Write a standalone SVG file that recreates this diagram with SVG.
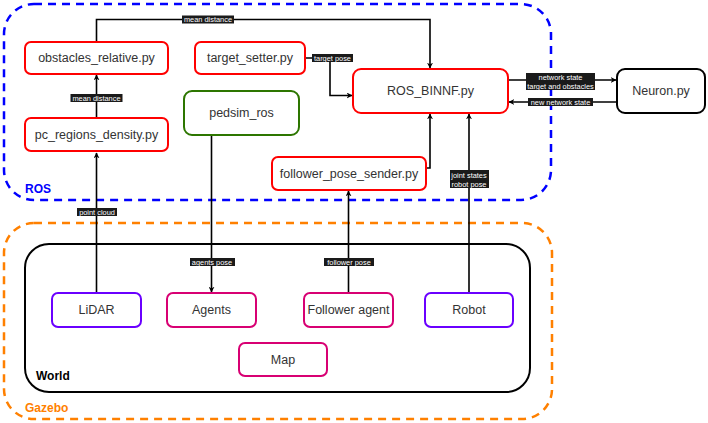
<svg xmlns="http://www.w3.org/2000/svg" width="708" height="423" viewBox="0 0 708 423">
<defs>
<marker id="arr" viewBox="0 0 10 10" refX="9" refY="5" markerWidth="6" markerHeight="6" orient="auto" markerUnits="userSpaceOnUse">
<path d="M0,0 L10,5 L0,10 L3,5 z" fill="#000"/>
</marker>
<style>
.node{fill:#fff;stroke-width:2}
.red{stroke:#ff0000}
.green{stroke:#2d7600}
.black{stroke:#000}
.violet{stroke:#6a00ff}
.pink{stroke:#d80073}
.t{font-family:"Liberation Sans",Arial,sans-serif;font-size:12.5px;fill:#333;text-anchor:middle;dominant-baseline:central}
.edge{fill:none;stroke:#000;stroke-width:1.6}
.lb{fill:#1a1a1a}
.lt{font-family:"Liberation Sans",Arial,sans-serif;font-size:7.4px;fill:#fff;text-anchor:middle;dominant-baseline:central}
.cont{fill:none;stroke-width:2.5;stroke-dasharray:8 6}
</style>
</defs>
<rect width="708" height="423" fill="#fff"/>

<g id="ros">
<rect class="cont" x="4" y="4" width="547" height="196" rx="30" stroke="#0000ff"/>
<text x="25" y="189" font-family="Liberation Sans,Arial,sans-serif" font-weight="bold" font-size="12" fill="#0000ff" dominant-baseline="central">ROS</text>
</g>
<g id="gazebo">
<rect class="cont" x="4" y="223" width="548" height="196" rx="30" stroke="#ff8000"/>
<text x="25" y="408" font-family="Liberation Sans,Arial,sans-serif" font-weight="bold" font-size="12" fill="#ff8000" dominant-baseline="central">Gazebo</text>
</g>
<g id="world">
<rect x="25" y="244" width="505" height="148" rx="24" fill="none" stroke="#000" stroke-width="2"/>
<text x="36" y="376" font-family="Liberation Sans,Arial,sans-serif" font-weight="bold" font-size="12" fill="#000" dominant-baseline="central">World</text>
</g>

<g id="connectors">
<path class="edge" d="M96.5,42 V19.5 H430 V68" marker-end="url(#arr)"/>
<path class="edge" d="M96.5,118 V75" marker-end="url(#arr)"/>
<path class="edge" d="M305,58 H330 V95.5 H352" marker-end="url(#arr)"/>
<path class="edge" d="M508,80 H616" marker-end="url(#arr)"/>
<path class="edge" d="M617,102 H509" marker-end="url(#arr)"/>
<path class="edge" d="M426,168 H430 V114" marker-end="url(#arr)"/>
<path class="edge" d="M469,293 V114" marker-end="url(#arr)"/>
<path class="edge" d="M96.5,293 V153" marker-end="url(#arr)"/>
<path class="edge" d="M211.5,135 V292" marker-end="url(#arr)"/>
<path class="edge" d="M348.5,293 V191" marker-end="url(#arr)"/>

<rect class="lb" x="182" y="15.5" width="52" height="8"/>
<text class="lt" x="208" y="19.5">mean distance</text>
<rect class="lb" x="70.5" y="94" width="52" height="8"/>
<text class="lt" x="96.5" y="98">mean distance</text>
<rect class="lb" x="312" y="54" width="41" height="8"/>
<text class="lt" x="332.5" y="58">target pose</text>
<rect class="lb" x="526" y="73" width="69" height="17"/>
<text class="lt" x="560.5" y="77">network state</text>
<text class="lt" x="560.5" y="86">target and obstacles</text>
<rect class="lb" x="528" y="98" width="65" height="8"/>
<text class="lt" x="560.5" y="102">new network state</text>
<rect class="lb" x="450" y="170" width="39" height="18"/>
<text class="lt" x="469" y="175">joint states</text>
<text class="lt" x="469" y="184">robot pose</text>
<rect class="lb" x="77" y="208" width="40" height="8"/>
<text class="lt" x="97" y="212">point cloud</text>
<rect class="lb" x="190" y="258" width="45" height="8"/>
<text class="lt" x="212" y="262">agents pose</text>
<rect class="lb" x="324" y="258" width="50" height="8"/>
<text class="lt" x="349" y="262">follower pose</text>
</g>

<g id="obstacles_relative"><rect class="node red" x="25" y="42" width="143" height="32" rx="6"/><text class="t" x="96.5" y="58">obstacles_relative.py</text></g>
<g id="target_setter"><rect class="node red" x="195" y="42" width="110" height="32" rx="6"/><text class="t" x="250" y="58">target_setter.py</text></g>
<g id="pc_regions_density"><rect class="node red" x="25" y="118" width="143" height="33" rx="6"/><text class="t" x="96.5" y="135">pc_regions_density.py</text></g>
<g id="pedsim_ros"><rect class="node green" x="184" y="91" width="115" height="44" rx="8"/><text class="t" x="241.5" y="113">pedsim_ros</text></g>
<g id="follower_pose_sender"><rect class="node red" x="272" y="157" width="154" height="33" rx="6"/><text class="t" x="349" y="173.5">follower_pose_sender.py</text></g>
<g id="ros_binnf"><rect class="node red" x="353" y="69" width="155" height="44" rx="8"/><text class="t" x="430.5" y="91">ROS_BINNF.py</text></g>
<g id="neuron"><rect class="node black" x="617" y="69" width="88" height="44" rx="8"/><text class="t" x="661" y="91">Neuron.py</text></g>

<g id="lidar"><rect class="node violet" x="52" y="293" width="89" height="34" rx="6"/><text class="t" x="96.5" y="310">LiDAR</text></g>
<g id="agents"><rect class="node pink" x="167" y="293" width="89" height="34" rx="6"/><text class="t" x="211.5" y="310">Agents</text></g>
<g id="follower_agent"><rect class="node pink" x="304" y="293" width="89" height="34" rx="6"/><text class="t" x="348.5" y="310">Follower agent</text></g>
<g id="robot"><rect class="node violet" x="425" y="293" width="88" height="34" rx="6"/><text class="t" x="469" y="310">Robot</text></g>
<g id="map"><rect class="node pink" x="239" y="343" width="88" height="33" rx="6"/><text class="t" x="283" y="359.5">Map</text></g>
</svg>
